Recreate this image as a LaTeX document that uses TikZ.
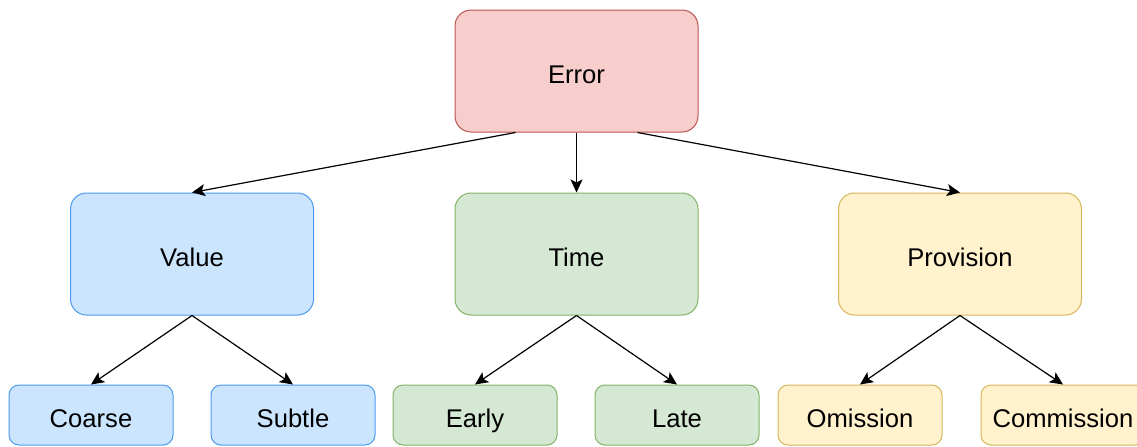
\documentclass[tikz,border=0pt]{standalone}
\usepackage{fontspec}
\setmainfont{Liberation Sans}
\usetikzlibrary{arrows.meta,calc}
\definecolor{errfill}{HTML}{F8CECC}
\definecolor{errline}{HTML}{B85450}
\definecolor{valfill}{HTML}{CCE5FF}
\definecolor{valline}{HTML}{4C9AF0}
\definecolor{timefill}{HTML}{D5E8D4}
\definecolor{timeline}{HTML}{82B366}
\definecolor{provfill}{HTML}{FFF2CC}
\definecolor{provline}{HTML}{D6B656}
\tikzset{
  bigbox/.style={draw, rounded corners=8pt, line width=0.5pt, minimum width=121.5pt, minimum height=61pt, text height=12pt, text depth=0pt, font=\fontsize{12.8}{15}\selectfont},
  smallbox/.style={draw, rounded corners=5pt, line width=0.5pt, minimum width=82pt, minimum height=30pt, text height=12pt, text depth=0pt, font=\fontsize{12.8}{15}\selectfont},
  link/.style={->, line width=0.6pt}
}
\begin{document}
\begin{tikzpicture}[x=0.5pt, y=-0.5pt, >={Stealth[length=6.5pt,width=6pt,inset=1.5pt]}]
  \useasboundingbox (0,0) rectangle (1137,446);
  % top level
  \node[bigbox, fill=errfill, draw=errline] (error) at (576.5,71) {Error};
  % second level
  \node[bigbox, fill=valfill, draw=valline] (value) at (192,254) {Value};
  \node[bigbox, fill=timefill, draw=timeline] (time) at (576.5,254) {Time};
  \node[bigbox, fill=provfill, draw=provline] (provision) at (960,254) {Provision};
  % leaves
  \node[smallbox, fill=valfill, draw=valline] (coarse) at (91,415) {Coarse};
  \node[smallbox, fill=valfill, draw=valline] (subtle) at (293,415) {Subtle};
  \node[smallbox, fill=timefill, draw=timeline] (early) at (475,415) {Early};
  \node[smallbox, fill=timefill, draw=timeline] (late) at (677,415) {Late};
  \node[smallbox, fill=provfill, draw=provline] (omission) at (860,415) {Omission};
  \node[smallbox, fill=provfill, draw=provline] (commission) at (1063,415) {Commission};
  % connectors
  \draw[link] ($(error.south west)!0.25!(error.south east)$) -- (value.north);
  \draw[link] (error.south) -- (time.north);
  \draw[link] ($(error.south west)!0.75!(error.south east)$) -- (provision.north);
  \foreach \parent/\kid in {value/coarse, value/subtle, time/early, time/late, provision/omission, provision/commission}
    \draw[link] (\parent.south) -- (\kid.north);
\end{tikzpicture}
\end{document}
